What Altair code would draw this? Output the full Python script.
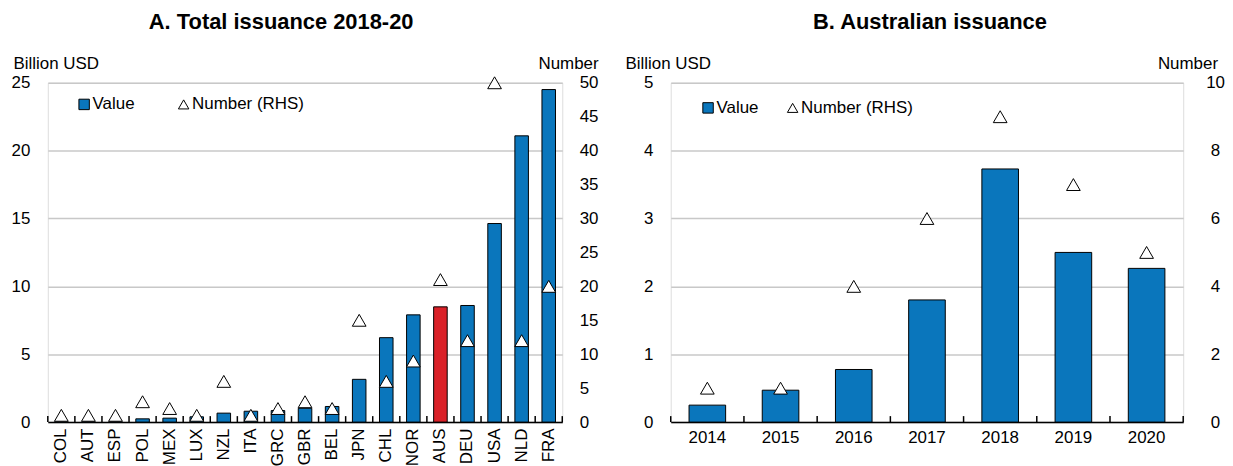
import altair as alt
import pandas as pd

# ---------------- data ----------------
countries = ["COL", "AUT", "ESP", "POL", "MEX", "LUX", "NZL", "ITA", "GRC", "GBR",
             "BEL", "JPN", "CHL", "NOR", "AUS", "DEU", "USA", "NLD", "FRA"]
values_a = [0.02, 0.02, 0.02, 0.24, 0.29, 0.39, 0.66, 0.80, 0.85, 1.02,
            1.15, 3.15, 6.22, 7.90, 8.49, 8.59, 14.63, 21.09, 24.50]
numbers_a = [1, 1, 1, 3, 2, 1, 6, 1, 2, 3,
             2, 15, 6, 9, 21, 12, 50, 12, 20]

years = ["2014", "2015", "2016", "2017", "2018", "2019", "2020"]
values_b = [0.25, 0.47, 0.775, 1.80, 3.73, 2.50, 2.265]
numbers_b = [1, 1, 4, 6, 9, 7, 5]

left_ticks_a = [0, 5, 10, 15, 20, 25]
right_ticks_a = [0, 5, 10, 15, 20, 25, 30, 35, 40, 45, 50]
left_ticks_b = [0, 1, 2, 3, 4, 5]
right_ticks_b = [0, 2, 4, 6, 8, 10]

series = ["Value", "Number (RHS)"]

BLUE = "#0A76BC"
RED = "#DA2128"
GRID = "#C8C8C8"
FONT = "Liberation Sans Narrow, Arial Narrow, Liberation Sans, Arial, sans-serif"
FS = 17


def make_legend(lx, ly, col_pad):
    return alt.Legend(title=None, orient="none", direction="horizontal",
                      legendX=lx, legendY=ly, labelFont=FONT, labelFontSize=FS,
                      labelColor="black", symbolSize=110, labelOffset=0,
                      symbolOffset=3, columnPadding=col_pad, padding=0,
                      symbolStrokeWidth=1)


def panel(cats, vals, nums, lt, rt, title, w, h, angle, legend_x, legend_y,
          col_pad, highlight=None, title_dx=0, xlabel_pad=4, ytitle_x=-35,
          rlabel_align="left", rlabel_pad=17, rtitle_x=36):
    df = pd.DataFrame({"cat": cats, "value": vals, "number": nums,
                       "series": ["Number (RHS)"] * len(cats)})
    last = pd.DataFrame({"cat": [cats[-1]]})

    xscale = alt.Scale(paddingInner=0, paddingOuter=0)
    xaxis = alt.Axis(title=None, ticks=False, domain=True, domainColor="black",
                     domainWidth=1.5, labelAngle=angle, labelFontSize=FS,
                     labelFont=FONT, labelColor="black", labelPadding=xlabel_pad,
                     grid=False)
    if highlight:
        fill = alt.condition(alt.datum.cat == highlight, alt.value(RED), alt.value(BLUE))
    else:
        fill = alt.value(BLUE)

    bars = alt.Chart(df).mark_bar(stroke="black", strokeWidth=1,
                                  width=alt.RelativeBandSize(0.5)).encode(
        x=alt.X("cat:N", sort=cats, scale=xscale, axis=xaxis),
        y=alt.Y("value:Q", scale=alt.Scale(domain=[lt[0], lt[-1]], nice=False),
                axis=alt.Axis(orient="left", values=lt, grid=True, gridColor=GRID,
                              gridWidth=1.5, domain=False, ticks=False,
                              labelFontSize=FS, labelFont=FONT, labelColor="black",
                              labelPadding=18, title="Billion USD", titleAngle=0,
                              titleAlign="left", titleBaseline="alphabetic",
                              titleX=ytitle_x, titleY=-14, titleFont=FONT,
                              titleFontSize=FS, titleFontWeight="normal",
                              titleColor="black")),
        fill=fill,
    )

    leg = make_legend(legend_x, legend_y, col_pad)
    pts = alt.Chart(df).mark_point(filled=True, strokeWidth=1,
                                   size=190, opacity=1).encode(
        x=alt.X("cat:N", sort=cats),
        y=alt.Y("number:Q", scale=alt.Scale(domain=[rt[0], rt[-1]], nice=False),
                axis=alt.Axis(orient="right", values=rt, grid=False, domain=False,
                              ticks=False, labelFontSize=FS, labelFont=FONT,
                              labelColor="black", labelPadding=rlabel_pad,
                              labelAlign=rlabel_align,
                              title="Number", titleAngle=0, titleAlign="right",
                              titleBaseline="alphabetic", titleX=rtitle_x,
                              titleY=-14, titleFont=FONT, titleFontSize=FS,
                              titleFontWeight="normal", titleColor="black")),
        shape=alt.Shape("series:N", scale=alt.Scale(domain=series,
                                                    range=["square", "triangle-up"]),
                        legend=leg),
        fill=alt.Fill("series:N", scale=alt.Scale(domain=series,
                                                  range=[BLUE, "white"]),
                      legend=leg),
        stroke=alt.Stroke("series:N", scale=alt.Scale(domain=series,
                                                      range=["black", "black"]),
                          legend=leg),
    )

    ticks = alt.Chart(df).mark_rule(color="black", strokeWidth=1.5).encode(
        x=alt.X("cat:N", sort=cats, bandPosition=0),
        y=alt.value(h), y2=alt.value(h - 6),
    )
    tick_end = alt.Chart(last).mark_rule(color="black", strokeWidth=1.5).encode(
        x=alt.X("cat:N", sort=cats, bandPosition=1),
        y=alt.value(h), y2=alt.value(h - 6),
    )

    return alt.layer(bars, ticks, tick_end, pts).resolve_scale(
        y="independent"
    ).properties(
        width=w, height=h,
        title=alt.TitleParams(title, font=FONT, fontSize=22, fontWeight="bold",
                              color="black", anchor="middle", dx=title_dx,
                              offset=21),
    )


pa = panel(countries, values_a, numbers_a, left_ticks_a, right_ticks_a,
           "A. Total issuance 2018-20", 517, 341, -90, 25, 13, 37,
           highlight="AUS", title_dx=-24, xlabel_pad=6, ytitle_x=-35)
pb = panel(years, values_b, numbers_b, left_ticks_b, right_ticks_b,
           "B. Australian issuance", 515, 341, 0, 26, 16.5, 22, title_dx=3,
           xlabel_pad=8, ytitle_x=-46, rlabel_align="center", rlabel_pad=32,
           rtitle_x=34.5)

chart = alt.hconcat(pa, pb, spacing=25).resolve_scale(
    shape="independent", fill="independent", stroke="independent"
).resolve_legend(
    shape="independent", fill="independent", stroke="independent"
).properties(
    padding={"left": 2, "right": 0, "top": 1, "bottom": 0}
).configure_view(stroke=None).configure(background="white")

chart.save("out.html", embed_options={"renderer": "svg", "actions": False})
